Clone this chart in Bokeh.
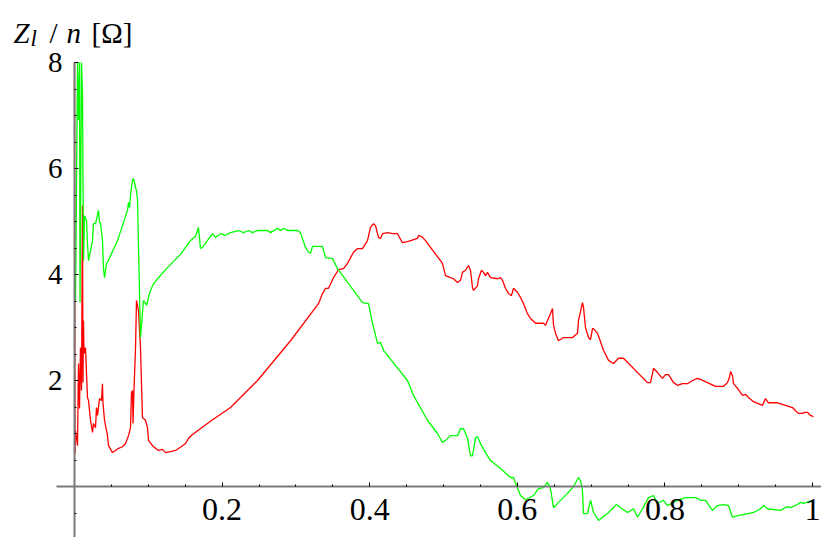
from bokeh.plotting import figure
from bokeh.models import Range1d, FixedTicker, CustomJSTickFormatter, Label
from bokeh.embed import file_html
from bokeh.resources import INLINE

# ---- data ----
red_x = [0.0, 0.0007, 0.0014, 0.0041, 0.0054, 0.0068, 0.0081, 0.0095, 0.0108, 0.0115,
         0.0122, 0.0129, 0.0149, 0.0176, 0.0190, 0.0217, 0.0244, 0.0257, 0.0285, 0.0298,
         0.0312, 0.0339, 0.0366, 0.0379, 0.0386, 0.0407, 0.0447, 0.0461, 0.0515, 0.0556,
         0.0596, 0.0650, 0.0691, 0.0732, 0.0759, 0.0772, 0.0786, 0.0793, 0.0806, 0.0827,
         0.0840, 0.0867, 0.0894, 0.0921, 0.0962, 0.0989, 0.1003, 0.1057, 0.1098, 0.1138,
         0.1192, 0.1233, 0.1301, 0.1369, 0.1436, 0.1504, 0.1545, 0.1599, 0.1843, 0.2114,
         0.2480, 0.2927, 0.3306, 0.3360, 0.3401, 0.3442, 0.3509, 0.3577, 0.3645, 0.3699,
         0.3780, 0.3835, 0.3902, 0.3970, 0.4011, 0.4051, 0.4079, 0.4119, 0.4146, 0.4173,
         0.4241, 0.4309, 0.4377, 0.4444, 0.4512, 0.4648, 0.4661, 0.4715, 0.4756, 0.4959,
         0.4986, 0.5027, 0.5095, 0.5136, 0.5190, 0.5230, 0.5257, 0.5298, 0.5339, 0.5366,
         0.5393, 0.5407, 0.5461, 0.5474, 0.5515, 0.5542, 0.5569, 0.5596, 0.5637, 0.5732,
         0.5772, 0.5799, 0.5840, 0.5881, 0.5921, 0.5949, 0.6003, 0.6043, 0.6084, 0.6138,
         0.6179, 0.6247, 0.6355, 0.6382, 0.6409, 0.6450, 0.6477, 0.6491, 0.6518, 0.6558,
         0.6626, 0.6748, 0.6816, 0.6829, 0.6883, 0.6897, 0.6924, 0.6965, 0.6992, 0.7019,
         0.7033, 0.7087, 0.7168, 0.7236, 0.7304, 0.7371, 0.7439, 0.7764, 0.7805, 0.7846,
         0.7900, 0.7967, 0.8008, 0.8049, 0.8117, 0.8171, 0.8238, 0.8306, 0.8374, 0.8442,
         0.8482, 0.8686, 0.8794, 0.8848, 0.8875, 0.8889, 0.8916, 0.8930, 0.8984, 0.9051,
         0.9092, 0.9133, 0.9201, 0.9255, 0.9322, 0.9363, 0.9404, 0.9526, 0.9729, 0.9770,
         0.9810, 0.9864, 0.9892, 0.9932, 0.9973, 1.0014]
red_y = [8.0, 0.62, 1.06, 0.77, 2.32, 1.47, 2.62, 1.81, 5.30, 1.96,
         3.13, 2.51, 2.62, 1.68, 1.62, 1.25, 1.02, 1.19, 1.11, 1.49,
         1.34, 1.66, 1.62, 1.94, 1.57, 1.25, 0.96, 0.77, 0.64, 0.68,
         0.72, 0.75, 0.81, 0.96, 1.11, 1.77, 1.81, 1.19, 1.81, 2.62,
         3.51, 3.32, 2.62, 1.30, 1.25, 1.11, 0.87, 0.77, 0.72, 0.68,
         0.70, 0.64, 0.66, 0.68, 0.74, 0.81, 0.91, 0.98, 1.23, 1.49,
         2.00, 2.75, 3.45, 3.64, 3.74, 3.74, 3.94, 4.09, 4.11, 4.21,
         4.42, 4.49, 4.49, 4.64, 4.89, 4.96, 4.92, 4.70, 4.68, 4.77,
         4.79, 4.77, 4.77, 4.60, 4.62, 4.68, 4.74, 4.70, 4.64, 4.26,
         4.21, 3.98, 3.94, 3.92, 3.85, 3.89, 4.04, 4.08, 4.17, 4.08,
         3.75, 3.70, 3.79, 3.92, 4.08, 4.04, 3.98, 4.04, 3.94, 3.92,
         3.94, 3.89, 3.74, 3.64, 3.60, 3.74, 3.66, 3.57, 3.45, 3.26,
         3.17, 3.08, 3.08, 3.04, 3.13, 3.26, 3.36, 3.04, 2.89, 2.75,
         2.81, 2.81, 2.89, 3.13, 3.47, 3.38, 3.00, 2.81, 2.77, 2.98,
         2.98, 2.89, 2.57, 2.38, 2.32, 2.42, 2.42, 1.96, 1.96, 2.23,
         2.15, 2.04, 2.11, 2.11, 1.96, 1.91, 1.94, 1.94, 2.00, 2.04,
         2.02, 1.89, 1.89, 1.96, 2.06, 2.17, 2.09, 1.94, 1.85, 1.72,
         1.74, 1.68, 1.60, 1.57, 1.53, 1.66, 1.58, 1.58, 1.49, 1.43,
         1.38, 1.38, 1.40, 1.40, 1.34, 1.32]

green_x = [0.0014, 0.0041, 0.0054, 0.0068, 0.0075, 0.0095, 0.0108, 0.0122, 0.0136, 0.0163,
           0.0176, 0.0190, 0.0217, 0.0244, 0.0257, 0.0285, 0.0312, 0.0325, 0.0339, 0.0352,
           0.0379, 0.0393, 0.0407, 0.0434, 0.0447, 0.0583, 0.0718, 0.0732, 0.0745, 0.0759,
           0.0772, 0.0786, 0.0799, 0.0813, 0.0827, 0.0840, 0.0854, 0.0894, 0.0935, 0.0976,
           0.1016, 0.1057, 0.1125, 0.1260, 0.1436, 0.1572, 0.1640, 0.1680, 0.1707, 0.1734,
           0.1870, 0.1911, 0.1978, 0.2046, 0.2114, 0.2222, 0.2290, 0.2358, 0.2412, 0.2480,
           0.2615, 0.2656, 0.2751, 0.2791, 0.2832, 0.2886, 0.3022, 0.3062, 0.3130, 0.3171,
           0.3198, 0.3225, 0.3360, 0.3401, 0.3496, 0.3564, 0.3780, 0.3902, 0.3984, 0.4038,
           0.4106, 0.4146, 0.4187, 0.4512, 0.4593, 0.4783, 0.4919, 0.4986, 0.5027, 0.5095,
           0.5190, 0.5230, 0.5271, 0.5325, 0.5366, 0.5393, 0.5434, 0.5461, 0.5501, 0.5569,
           0.5637, 0.5772, 0.5908, 0.5949, 0.5976, 0.6043, 0.6111, 0.6220, 0.6287, 0.6355,
           0.6409, 0.6450, 0.6491, 0.6558, 0.6680, 0.6762, 0.6829, 0.6856, 0.6883, 0.6897,
           0.6951, 0.6992, 0.7033, 0.7100, 0.7222, 0.7344, 0.7398, 0.7493, 0.7575, 0.7629,
           0.7696, 0.7778, 0.7846, 0.7900, 0.7981, 0.8035, 0.8117, 0.8171, 0.8279, 0.8415,
           0.8482, 0.8550, 0.8645, 0.8713, 0.8794, 0.8862, 0.8916, 0.8984, 0.9065, 0.9201,
           0.9295, 0.9336, 0.9390, 0.9566, 0.9661, 0.9702, 0.9797, 0.9837, 0.9878, 1.0000]
green_y = [3.51, 8.0, 6.91, 8.0, 3.47, 8.0, 7.43, 4.26, 5.11, 5.02,
           4.58, 4.26, 4.45, 4.64, 4.96, 4.96, 5.13, 5.21, 4.98, 4.98,
           4.64, 4.11, 3.94, 4.21, 4.23, 4.64, 5.21, 5.36, 5.26, 5.49,
           5.64, 5.77, 5.81, 5.74, 5.64, 5.58, 5.40, 2.81, 3.51, 3.42,
           3.64, 3.79, 3.92, 4.13, 4.38, 4.64, 4.72, 4.89, 4.49, 4.51,
           4.77, 4.70, 4.77, 4.74, 4.79, 4.83, 4.79, 4.83, 4.79, 4.83,
           4.83, 4.79, 4.87, 4.83, 4.87, 4.83, 4.83, 4.79, 4.51, 4.42,
           4.40, 4.53, 4.53, 4.32, 4.30, 4.11, 3.70, 3.47, 3.45, 3.08,
           2.70, 2.72, 2.57, 2.00, 1.72, 1.25, 1.00, 0.83, 0.87, 0.96,
           0.96, 1.09, 1.09, 0.91, 0.58, 0.58, 0.92, 0.94, 0.81, 0.64,
           0.49, 0.34, 0.17, 0.17, 0.06, -0.17, -0.25, -0.17, -0.04, -0.02,
           0.08, -0.04, -0.40, -0.30, -0.13, 0.00, 0.17, 0.11, -0.08, -0.51,
           -0.51, -0.26, -0.49, -0.64, -0.51, -0.34, -0.40, -0.49, -0.42, -0.58,
           -0.42, -0.21, -0.17, -0.32, -0.26, -0.36, -0.30, -0.26, -0.21, -0.21,
           -0.26, -0.26, -0.45, -0.36, -0.34, -0.36, -0.58, -0.55, -0.53, -0.49,
           -0.42, -0.36, -0.42, -0.45, -0.38, -0.40, -0.34, -0.30, -0.32, -0.26]

x_major_ticks = [0.2, 0.4, 0.6, 0.8, 1.0]
x_minor_ticks = [0.05, 0.1, 0.15, 0.25, 0.3, 0.35, 0.45, 0.5, 0.55,
                 0.65, 0.7, 0.75, 0.85, 0.9, 0.95]
y_major_ticks = [2, 4, 6, 8]
y_minor_ticks = [-0.5, 0.5, 1, 1.5, 2.5, 3, 3.5, 4.5, 5, 5.5, 6.5, 7, 7.5]

# ---- layout ----
W, H = 821, 537
X0, XU = 74, 738      # px of x=0, px per unit
Y0, YU = 486, 53      # px (from top) of y=0, px per unit

p = figure(width=W, height=H, output_backend="svg", toolbar_location=None,
           x_range=Range1d(-X0 / XU, (W - X0) / XU),
           y_range=Range1d(-(H - Y0) / YU, Y0 / YU),
           min_border=0)
p.outline_line_color = None
p.grid.visible = False
p.background_fill_color = "white"

axis_color = "#7a7a7a"
font = "Liberation Serif"

xa = p.xaxis[0]
xa.fixed_location = 0
xa.bounds = (-0.024, 1.03)
xa.ticker = FixedTicker(ticks=x_major_ticks, minor_ticks=x_minor_ticks)
xa.formatter = CustomJSTickFormatter(code="return Math.abs(tick-1)<1e-9 ? '1' : tick.toFixed(1);")
xa.axis_line_color = axis_color
xa.axis_line_width = 2
xa.major_tick_in = 4
xa.major_tick_out = 0
xa.minor_tick_in = 2
xa.minor_tick_out = 0
xa.major_tick_line_color = "black"
xa.minor_tick_line_color = "black"
xa.major_label_text_font = font
xa.major_label_text_font_size = "32px"
xa.major_label_text_color = "black"
xa.major_label_standoff = 12

ya = p.yaxis[0]
ya.fixed_location = 0
ya.bounds = (-1, 8)
ya.ticker = FixedTicker(ticks=y_major_ticks, minor_ticks=y_minor_ticks)
ya.formatter = CustomJSTickFormatter(code="return tick.toFixed(0);")
ya.axis_line_color = axis_color
ya.axis_line_width = 2
ya.major_tick_in = 4
ya.major_tick_out = 0
ya.minor_tick_in = 2
ya.minor_tick_out = 0
ya.major_tick_line_color = "black"
ya.minor_tick_line_color = "black"
ya.major_label_text_font = font
ya.major_label_text_font_size = "29px"
ya.major_label_text_color = "black"
ya.major_label_standoff = 12
ya.major_label_orientation = "horizontal"

p.line(red_x, red_y, line_color="#ff0000", line_width=1.3)
p.line(green_x, green_y, line_color="#00ff00", line_width=1.3)

# ---- axis title "Z_l / n [Ω]" ----
parts = [("Z", 13, H - 32, "29px", "italic"),
         ("l", 30, H - 38, "23px", "italic"),
         ("/", 49, H - 32, "29px", "normal"),
         ("n", 66, H - 32, "29px", "italic"),
         ("[Ω]", 91, H - 32, "29px", "normal")]
for txt, sx, sy, fs, st in parts:
    p.add_layout(Label(x=sx, y=sy, x_units="screen", y_units="screen", text=txt,
                       text_font=font, text_font_size=fs, text_font_style=st,
                       text_color="black", text_baseline="alphabetic"))

open("out.html", "w").write(file_html(p, INLINE))
